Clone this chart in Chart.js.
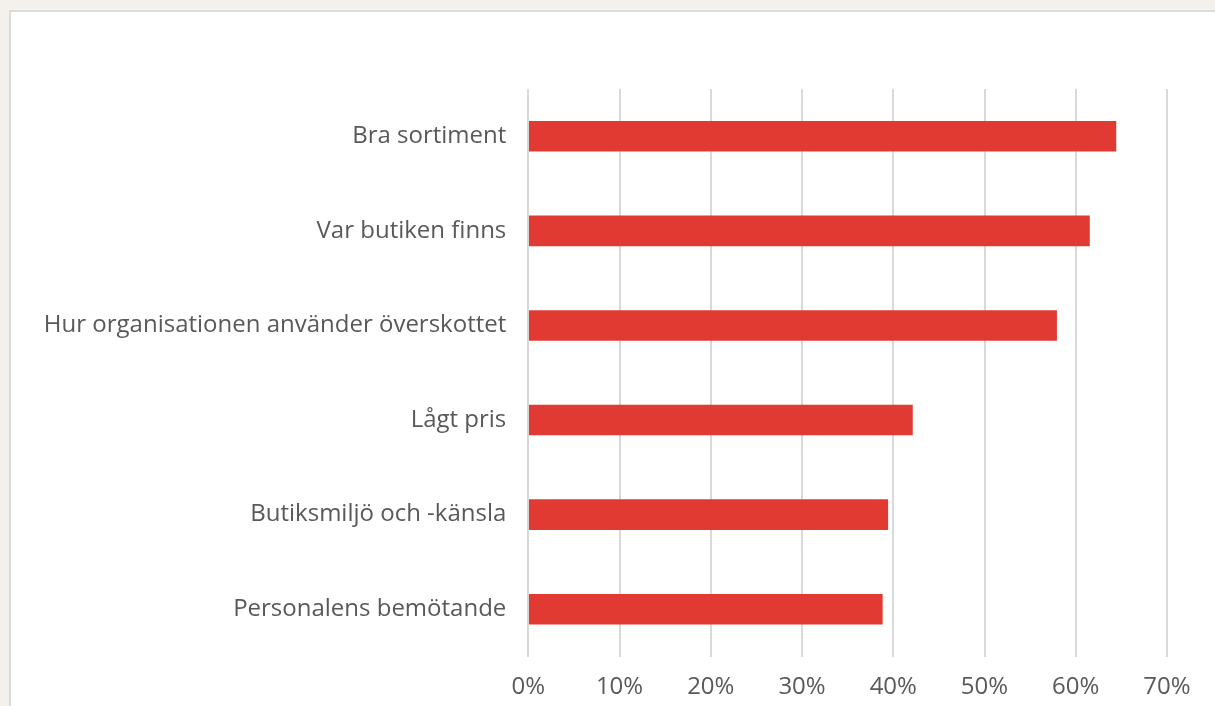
<!DOCTYPE html>
<html>
<head>
<meta charset="utf-8">
<script src="https://cdn.jsdelivr.net/npm/chart.js@4/dist/chart.umd.min.js"></script>
<style>
  html, body { margin: 0; padding: 0; background: #f4f1ec; width: 1215px; height: 706px; overflow: hidden; }
  #panel { position: absolute; left: 9px; top: 10px; right: 0; bottom: 0; background: #ffffff; border-left: 2px solid #dbdbdb; border-top: 2px solid #dbdbdb; }
  #wrap { position: absolute; left: 0; top: 0; width: 1215px; height: 706px; }
</style>
</head>
<body>
<div id="panel"></div>
<div id="wrap"><canvas id="c" width="1215" height="706"></canvas></div>
<script>
const categories = ['Bra sortiment', 'Var butiken finns', 'Hur organisationen använder överskottet', 'Lågt pris', 'Butiksmiljö och -känsla', 'Personalens bemötande'];
const values = [64.4, 61.5, 57.9, 42.1, 39.4, 38.8];
const tickValues = [0, 10, 20, 30, 40, 50, 60, 70];

const FONT = { family: '"Open Sans", sans-serif', size: 24 };
const TEXT = '#595959';

new Chart(document.getElementById('c'), {
  type: 'bar',
  data: {
    labels: categories,
    datasets: [{
      data: values,
      backgroundColor: '#e03a33',
      borderWidth: 0,
      barThickness: 30
    }]
  },
  options: {
    indexAxis: 'y',
    responsive: false,
    animation: false,
    events: [],
    layout: { padding: { top: 89, right: 48, left: 0, bottom: 0 } },
    plugins: { legend: { display: false }, tooltip: { enabled: false } },
    scales: {
      x: {
        min: 0, max: 70,
        afterBuildTicks: s => { s.ticks = tickValues.map(v => ({ value: v })); },
        afterFit: s => { s.height = 49.5; },
        ticks: { color: TEXT, font: FONT, padding: 16, callback: v => v + '%' },
        grid: { color: '#d9d9d9', lineWidth: 2, drawTicks: false },
        border: { display: false }
      },
      y: {
        afterFit: s => { s.width = 528.3; },
        ticks: { color: TEXT, font: FONT, padding: 22 },
        grid: { display: false, drawTicks: false },
        border: { display: false }
      }
    }
  }
});
</script>
</body>
</html>
